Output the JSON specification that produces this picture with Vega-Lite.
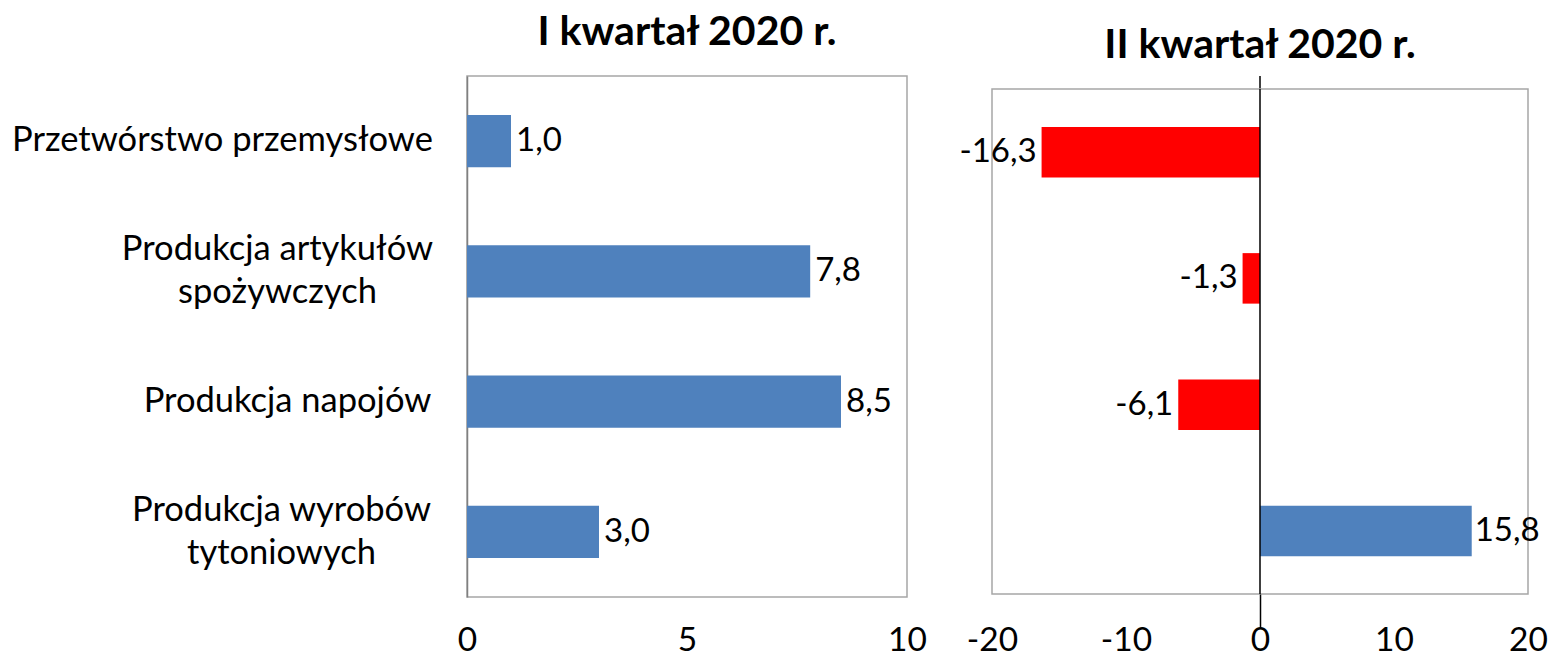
{
  "$schema": "https://vega.github.io/schema/vega-lite/v6.json",
  "background": "white",
  "padding": {"left": 10, "top": 11, "right": 5, "bottom": 0},
  "bounds": "flush",
  "spacing": 85,
  "config": {
    "locale": {"number": {"decimal": ",", "thousands": " ", "grouping": [3], "currency": ["", " zł"], "minus": "-"}},
    "font": "Lato",
    "view": {"stroke": "#A6A6A6", "strokeWidth": 1.5},
    "axis": {"grid": false, "ticks": false, "labelFlush": false, "labelFont": "Lato", "labelFontSize": 33.5, "labelColor": "#000000", "title": null},
    "title": {"font": "Lato", "fontSize": 41, "fontWeight": "bold", "color": "#000000"}
  },
  "datasets": {
    "q1": [
      {"kategoria": "Przetwórstwo przemysłowe", "wartosc": 1.0},
      {"kategoria": "Produkcja artykułów|spożywczych", "wartosc": 7.8},
      {"kategoria": "Produkcja napojów", "wartosc": 8.5},
      {"kategoria": "Produkcja wyrobów|tytoniowych", "wartosc": 3.0}
    ],
    "q2": [
      {"kategoria": "Przetwórstwo przemysłowe", "wartosc": -16.3},
      {"kategoria": "Produkcja artykułów|spożywczych", "wartosc": -1.3},
      {"kategoria": "Produkcja napojów", "wartosc": -6.1},
      {"kategoria": "Produkcja wyrobów|tytoniowych", "wartosc": 15.8}
    ],
    "zero": [{"os": 0}]
  },
  "hconcat": [
    {
      "width": 440,
      "height": 521,
      "title": {"text": "I kwartał 2020 r.", "offset": 22},
      "data": {"name": "q1"},
      "encoding": {
        "y": {"field": "kategoria", "type": "nominal", "sort": null,
              "scale": {"paddingInner": 0.6, "paddingOuter": 0.3},
              "axis": {"labelExpr": "split(datum.label, '|')", "labelLineHeight": 43, "labelLimit": 600,
                       "labelAlign": "center",
                       "labelFontSize": 34.5,
                       "labelOffset": {"condition": {"test": "indexof(datum.label, '|') >= 0", "value": -21}, "value": 0},
                       "labelPadding": {"condition": [
                          {"test": "datum.label == 'Przetwórstwo przemysłowe'", "value": 245},
                          {"test": "datum.label == 'Produkcja artykułów|spożywczych'", "value": 190},
                          {"test": "datum.label == 'Produkcja napojów'", "value": 180}
                        ], "value": 186},
                       "domain": true, "domainColor": "#808080", "domainWidth": 1.5}},
        "x": {"field": "wartosc", "type": "quantitative", "scale": {"domain": [0, 10]},
              "axis": {"values": [0, 5, 10], "domain": false, "labelPadding": 27}}
      },
      "layer": [
        {"mark": {"type": "bar", "color": "#4F81BD"}},
        {"mark": {"type": "text", "align": "left", "baseline": "middle", "dx": 5, "fontSize": 33},
         "encoding": {"text": {"field": "wartosc", "type": "quantitative", "format": ".1f"}}}
      ]
    },
    {
      "bounds": "flush",
      "spacing": 0,
      "vconcat": [
        {
          "width": 536,
          "height": 13,
          "data": {"name": "zero"},
          "view": {"stroke": null},
          "mark": {"type": "rule", "color": "#000000", "strokeWidth": 1.5},
          "encoding": {"x": {"field": "os", "type": "quantitative", "scale": {"domain": [-20, 20]}, "axis": null}}
        },
        {
          "width": 536,
          "height": 505,
          "title": {"text": "II kwartał 2020 r.", "offset": 21},
          "data": {"name": "q2"},
          "layer": [
            {"mark": {"type": "bar"},
             "encoding": {
               "y": {"field": "kategoria", "type": "nominal", "sort": null,
                     "scale": {"paddingInner": 0.6, "paddingOuter": 0.3}, "axis": null},
               "x": {"field": "wartosc", "type": "quantitative", "scale": {"domain": [-20, 20]},
                     "axis": {"values": [-20, -10, 0, 10, 20], "domain": false,
                              "ticks": true, "tickSize": 33, "tickWidth": 1.5,
                              "tickColor": {"condition": {"test": "datum.value === 0", "value": "#000000"}, "value": "transparent"},
                              "labelPadding": -3}},
               "color": {"condition": {"test": "datum.wartosc < 0", "value": "#FF0000"}, "value": "#4F81BD"}
             }},
            {"transform": [{"filter": "datum.wartosc >= 0"}],
             "mark": {"type": "text", "align": "left", "baseline": "middle", "dx": 3, "fontSize": 33},
             "encoding": {
               "y": {"field": "kategoria", "type": "nominal", "sort": null},
               "x": {"field": "wartosc", "type": "quantitative"},
               "text": {"field": "wartosc", "type": "quantitative", "format": ".1f"}
             }},
            {"transform": [{"filter": "datum.wartosc < 0"}],
             "mark": {"type": "text", "align": "right", "baseline": "middle", "dx": -5, "fontSize": 33},
             "encoding": {
               "y": {"field": "kategoria", "type": "nominal", "sort": null},
               "x": {"field": "wartosc", "type": "quantitative"},
               "text": {"field": "wartosc", "type": "quantitative", "format": ".1f"}
             }},
            {"data": {"name": "zero"},
             "mark": {"type": "rule", "color": "#000000", "strokeWidth": 1.5},
             "encoding": {"x": {"field": "os", "type": "quantitative"}}}
          ]
        }
      ]
    }
  ]
}
